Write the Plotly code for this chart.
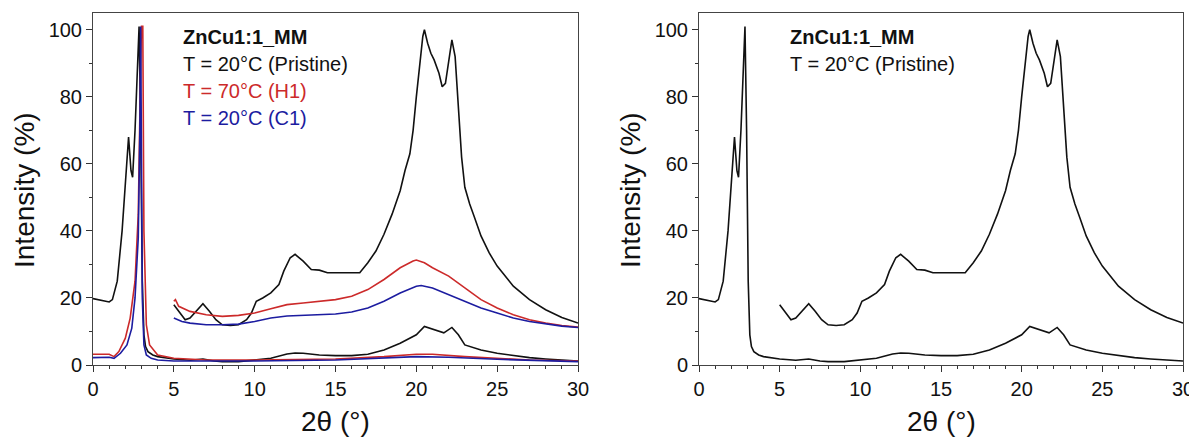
import plotly.graph_objects as go

# --- pristine (black), full scan 0-30 deg
pr_x = [0, 0.5, 1.0, 1.2, 1.5, 1.8, 2.0, 2.2, 2.35, 2.45, 2.6, 2.75, 2.85, 2.95, 3.05, 3.15, 3.25,
        3.4, 3.7, 4.0, 5.0, 6.0, 6.8, 7.5, 8.0, 9.0, 10.0, 11.0, 12.0, 12.5, 13.0, 14.0, 15.0, 16.0,
        17.0, 18.0, 19.0, 20.0, 20.5, 21.0, 21.7, 22.2, 22.6, 23.0, 24.0, 25.0, 26.0, 27.0, 28.0,
        29.0, 30.0]
pr_y = [19.8, 19.3, 18.8, 19.5, 25, 40, 55, 68, 58, 56, 70, 90, 101, 70, 25, 9, 5.5,
        4.0, 3.0, 2.5, 1.8, 1.4, 1.8, 1.2, 1.0, 1.0, 1.6, 2.0, 3.3, 3.6, 3.5, 3.0, 2.8, 2.8,
        3.2, 4.5, 6.5, 9.0, 11.5, 10.8, 9.6, 11.2, 9.0, 6.0, 4.5, 3.5, 2.8, 2.2, 1.8,
        1.5, 1.2]

# --- pristine (black), magnified 5-30 deg
prm_x = [5.0, 5.3, 5.7, 6.0, 6.5, 6.8, 7.2, 7.6, 8.0, 8.5, 9.0, 9.5, 9.8, 10.1, 10.5, 11.0, 11.5,
         11.8, 12.2, 12.5, 13.0, 13.5, 14.0, 14.5, 15.0, 16.0, 16.5, 17.0, 17.5, 18.0, 18.5, 19.0,
         19.3, 19.6, 19.8, 20.0, 20.2, 20.4, 20.5, 20.7, 20.9, 21.1, 21.4, 21.6, 21.8, 22.0, 22.2,
         22.4, 22.6, 22.8, 23.0, 23.3, 23.6, 24.0, 24.5, 25.0, 26.0, 27.0, 28.0, 29.0, 30.0]
prm_y = [18.0, 16.0, 13.5, 14.0, 16.5, 18.3, 16.0, 13.5, 12.0, 11.8, 12.0, 13.5, 15.5, 19.0, 20.0,
         21.5, 24.0, 28.0, 32.0, 33.0, 31.0, 28.5, 28.3, 27.5, 27.5, 27.5, 27.5, 30.5, 34.0, 39.0,
         45.0, 52.0, 58.0, 63.0, 70.0, 80.0, 90.0, 98.0, 100.0, 96.0, 93.0, 91.0, 87.0, 83.0, 84.0,
         90.0, 97.0, 92.0, 78.0, 62.0, 53.0, 48.0, 44.0, 38.5, 33.5, 29.5, 23.5, 19.5, 16.5, 14.2,
         12.5]

# --- 70 C (H1, red), full scan
h1_x = [0, 1.0, 1.3, 1.6, 2.0, 2.3, 2.6, 2.8, 2.95, 3.0, 3.08, 3.15, 3.3, 3.5, 4.0, 5.0, 7.0, 10.0,
        15.0, 18.0, 20.0, 21.0, 23.0, 25.0, 27.0, 30.0]
h1_y = [3.2, 3.2, 2.5, 4.0, 8.0, 14.0, 25.0, 45.0, 90.0, 101, 101, 40.0, 12.0, 6.0, 3.0, 2.0, 1.5,
        1.5, 1.8, 2.5, 3.2, 3.2, 2.5, 2.0, 1.5, 1.2]

# --- 70 C (H1, red), magnified
h1m_x = [5.0, 5.1, 5.3, 6.0, 7.0, 8.0, 9.0, 10.0, 11.0, 12.0, 13.0, 14.0, 15.0, 16.0, 17.0, 18.0,
         19.0, 19.8, 20.0, 20.5, 21.0, 22.0, 23.0, 24.0, 25.0, 26.0, 27.0, 28.0, 29.0, 30.0]
h1m_y = [19.0, 19.5, 17.5, 16.0, 15.0, 14.5, 14.8, 15.5, 16.8, 18.0, 18.5, 19.0, 19.5, 20.5, 22.5,
         25.5, 29.0, 31.0, 31.3, 30.5, 29.0, 26.5, 23.0, 19.5, 17.0, 15.0, 13.5, 12.5, 11.8, 11.3]

# --- 20 C after cooling (C1, blue), full scan
c1_x = [0, 1.0, 1.3, 1.7, 2.1, 2.4, 2.6, 2.8, 2.9, 2.95, 3.0, 3.05, 3.15, 3.3, 3.6, 4.0, 5.0, 10.0,
        15.0, 18.0, 20.0, 22.0, 25.0, 30.0]
c1_y = [2.2, 2.3, 2.0, 3.5, 6.0, 11.0, 20.0, 38.0, 70.0, 101, 60.0, 20.0, 6.0, 3.0, 2.0, 1.5, 1.2,
        1.2, 1.5, 2.0, 2.5, 2.3, 1.7, 1.0]

# --- 20 C after cooling (C1, blue), magnified
c1m_x = [5.0, 5.5, 6.0, 7.0, 8.0, 9.0, 10.0, 11.0, 12.0, 13.0, 14.0, 15.0, 16.0, 17.0, 18.0, 19.0,
         20.0, 20.3, 21.0, 22.0, 23.0, 24.0, 25.0, 26.0, 27.0, 28.0, 29.0, 30.0]
c1m_y = [14.0, 13.0, 12.5, 12.0, 12.0, 12.2, 13.0, 14.0, 14.6, 14.8, 15.0, 15.2, 15.8, 17.0, 19.0,
         21.5, 23.5, 23.7, 23.0, 21.0, 19.0, 17.0, 15.5, 14.0, 13.0, 12.2, 11.6, 11.2]

BLACK = "#111111"
RED = "#cc2a2a"
BLUE = "#1c1ca0"
FONT = "Arial, Liberation Sans, sans-serif"

# the page body has an 8px margin, so the figure is drawn 8px in from the corner
PAD = 8
W, H = 1197 - PAD, 445 - 2 * PAD


def px(xp):
    return (xp - PAD) / W


def py(yp):
    return 1 - (yp - PAD) / H


fig = go.Figure()


def add_line(x, y, color, xa, ya):
    fig.add_trace(go.Scatter(x=x, y=y, mode="lines", line=dict(color=color, width=1.6),
                             xaxis=xa, yaxis=ya, showlegend=False, cliponaxis=True))


# left panel: all three scans
add_line(pr_x, pr_y, BLACK, "x", "y")
add_line(h1_x, h1_y, RED, "x", "y")
add_line(c1_x, c1_y, BLUE, "x", "y")
add_line(prm_x, prm_y, BLACK, "x", "y")
add_line(h1m_x, h1m_y, RED, "x", "y")
add_line(c1m_x, c1m_y, BLUE, "x", "y")

# right panel: pristine only
add_line(pr_x, pr_y, BLACK, "x2", "y2")
add_line(prm_x, prm_y, BLACK, "x2", "y2")

ax_common = dict(
    range=[0, 30], dtick=5, ticks="outside", ticklen=6, tickwidth=1, tickcolor="#333",
    showline=True, linecolor="#444", linewidth=1, mirror=True, showgrid=False, zeroline=False,
    minor=dict(ticks="outside", dtick=1, ticklen=3, tickcolor="#333", showgrid=False),
    tickfont=dict(family=FONT, size=20, color="#111"), automargin=False,
    ticklabeloverflow="allow",
)
ay_common = dict(
    range=[0, 105], dtick=20, ticks="outside", ticklen=6, tickwidth=1, tickcolor="#333",
    showline=True, linecolor="#444", linewidth=1, mirror=True, showgrid=False, zeroline=False,
    minor=dict(ticks="outside", dtick=10, ticklen=3, tickcolor="#333", showgrid=False),
    tickfont=dict(family=FONT, size=20, color="#111"), automargin=False,
)

fig.update_layout(
    width=W, height=H,
    margin=dict(l=0, r=0, t=0, b=0),
    paper_bgcolor="white", plot_bgcolor="white",
    xaxis=dict(domain=[px(93), px(578)], anchor="y", **ax_common),
    yaxis=dict(domain=[py(365), py(13)], anchor="x", **ay_common),
    xaxis2=dict(domain=[px(699), px(1183)], anchor="y2", **ax_common),
    yaxis2=dict(domain=[py(365), py(13)], anchor="x2", **ay_common),
)

annotations = []
# axis titles
for cx in [(93 + 578) / 2, (699 + 1183) / 2]:
    annotations.append(dict(text="2θ (°)", x=px(cx), y=py(421), xref="paper", yref="paper",
                            xanchor="center", yanchor="middle", showarrow=False,
                            font=dict(family=FONT, size=28, color="#111")))
for lx in [24, 630]:
    annotations.append(dict(text="Intensity (%)", x=px(lx), y=py(190), xref="paper",
                            yref="paper", textangle=-90, xanchor="center", yanchor="middle",
                            showarrow=False, font=dict(family=FONT, size=28, color="#111")))

# in-panel labels
left_lines = [("<b>ZnCu1:1_MM</b>", BLACK), ("T = 20°C (Pristine)", BLACK),
              ("T = 70°C (H1)", RED), ("T = 20°C (C1)", BLUE)]
for i, (txt, col) in enumerate(left_lines):
    annotations.append(dict(text=txt, x=px(181), y=py(37 + 27 * i), xref="paper",
                            yref="paper", xanchor="left", yanchor="middle", showarrow=False,
                            font=dict(family=FONT, size=20, color=col)))
right_lines = [("<b>ZnCu1:1_MM</b>", BLACK), ("T = 20°C (Pristine)", BLACK)]
for i, (txt, col) in enumerate(right_lines):
    annotations.append(dict(text=txt, x=px(788), y=py(37 + 27 * i), xref="paper",
                            yref="paper", xanchor="left", yanchor="middle", showarrow=False,
                            font=dict(family=FONT, size=20, color=col)))

fig.update_layout(annotations=annotations)

fig.write_html("out.html")
